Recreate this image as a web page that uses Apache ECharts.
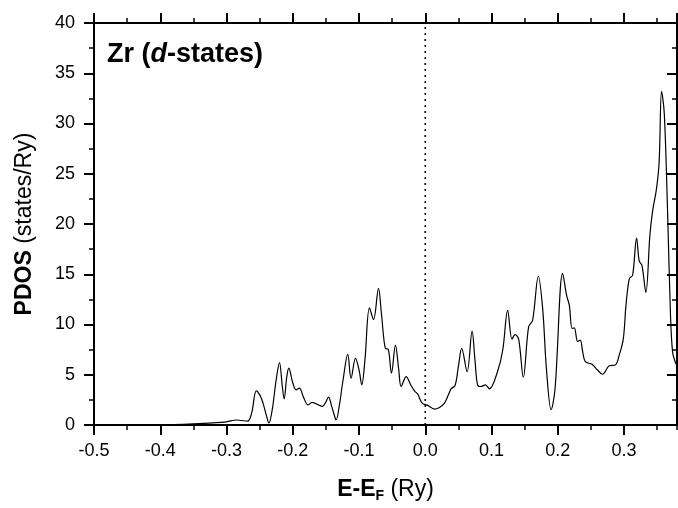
<!DOCTYPE html>
<html>
<head>
<meta charset="utf-8">
<script src="https://cdn.jsdelivr.net/npm/echarts@6/dist/echarts.min.js"></script>
<style>html,body{margin:0;padding:0;background:#fff}#c{width:678px;height:508px}</style>
</head>
<body>
<div id="c"></div>
<script>
const energy = [-0.5,-0.42,-0.38,-0.35,-0.32,-0.30,-0.285,-0.278,-0.268,-0.262,-0.255,-0.249,-0.245,-0.240,-0.236,-0.231,-0.225,-0.220,-0.216,-0.213,-0.209,-0.206,-0.200,-0.195,-0.190,-0.184,-0.177,-0.171,-0.163,-0.155,-0.150,-0.146,-0.141,-0.1355,-0.1344,-0.130,-0.124,-0.117,-0.112,-0.1053,-0.100,-0.0958,-0.091,-0.0842,-0.0781,-0.0706,-0.066,-0.060,-0.056,-0.051,-0.045,-0.040,-0.0364,-0.0288,-0.022,-0.0163,-0.0113,-0.0047,0.0038,0.0139,0.0214,0.029,0.035,0.039,0.045,0.050,0.055,0.0632,0.0707,0.075,0.079,0.0843,0.0908,0.0968,0.1094,0.117,0.1244,0.131,0.1356,0.141,0.148,0.156,0.162,0.1707,0.1772,0.183,0.190,0.196,0.2074,0.2134,0.2175,0.2216,0.225,0.230,0.234,0.2376,0.2416,0.2517,0.260,0.2677,0.2778,0.2869,0.293,0.299,0.303,0.308,0.313,0.319,0.323,0.327,0.333,0.339,0.343,0.349,0.353,0.3567,0.3608,0.3658,0.370,0.3733,0.378,0.38];
const pdos = [0,0,0.05,0.12,0.22,0.32,0.5,0.45,0.38,1.2,3.4,2.9,2.2,1.0,0.2,1.5,4.5,6.2,4.0,2.6,4.8,5.65,4.2,3.5,3.66,2.8,2.0,2.25,2.05,1.85,2.3,2.77,1.8,0.6,0.52,1.8,4.5,7.03,4.65,6.63,5.5,4.0,6.5,11.65,10.5,13.6,11.0,7.6,7.55,5.15,7.95,5.5,3.83,4.82,4.0,3.4,3.07,2.18,1.95,1.58,1.75,2.18,3.0,3.6,3.93,5.8,7.62,5.3,9.34,6.5,4.0,3.83,4.0,3.6,5.38,7.46,11.4,8.55,9.0,8.55,4.75,9.77,10.4,14.8,11.6,5.5,1.52,3.66,15.1,12.9,11.9,9.6,9.67,8.3,8.45,7.3,6.3,6.04,5.47,5.05,5.9,5.97,7.0,8.6,11.9,14.55,14.9,18.6,16.3,15.9,13.2,18.8,21.2,23.5,26.1,33.2,31.0,21.2,11.3,7.3,6.14,6.0];
const xMin = -0.5, xMax = 0.38, xStep = 0.1, xMinorStep = 0.05;
const yMin = 0, yMax = 40, yStep = 5;
const titleText = ['Zr (', 'd', '-states)'];
const fermiX = [0, 0];
const fermiY = [0, 40];

const FONT = 'Liberation Sans, Arial, sans-serif';
const chart = echarts.init(document.getElementById('c'), null, {renderer: 'canvas'});
const lineStyleAxis = {color: '#000', width: 2};
function xAx(pos, major, showLabel, showLine) {
  return {
    type: 'value', position: pos, min: xMin, max: xMax,
    interval: major ? xStep : xMinorStep,
    axisLine: {show: showLine, onZero: false, lineStyle: lineStyleAxis},
    axisTick: {show: true, inside: false, length: major ? 10 : 5, lineStyle: {color: '#000', width: major ? 2 : 1.5}},
    axisLabel: {show: showLabel, color: '#000', fontFamily: FONT, fontSize: 18, margin: 17, showMaxLabel: false,
      formatter: v => (Math.abs(v / xStep - Math.round(v / xStep)) < 1e-6 ? v.toFixed(1) : '')},
    splitLine: {show: false}
  };
}
const data = energy.map((e, i) => [e, pdos[i]]);
chart.setOption({
  animation: false,
  backgroundColor: '#fff',
  grid: {left: 94, right: 1, top: 23, bottom: 81},
  title: {
    left: 102, top: 36,
    text: '{a|' + titleText[0] + '}{b|' + titleText[1] + '}{a|' + titleText[2] + '}',
    textStyle: {rich: {
      a: {fontFamily: FONT, fontSize: 27, fontWeight: 'bold', color: '#000'},
      b: {fontFamily: FONT, fontSize: 27, fontWeight: 'bold', fontStyle: 'italic', color: '#000'}
    }}
  },
  xAxis: [
    Object.assign(xAx('bottom', true, true, true), {
      name: '{b|E-E}{s|F}{n| (Ry)}', nameLocation: 'middle', nameGap: 52,
      nameTextStyle: {rich: {
        b: {fontFamily: FONT, fontSize: 23, fontWeight: 'bold', color: '#000'},
        s: {fontFamily: FONT, fontSize: 14, fontWeight: 'bold', color: '#000', verticalAlign: 'bottom', padding: [12, 0, 0, 0]},
        n: {fontFamily: FONT, fontSize: 23, color: '#000'}
      }}
    }),
    xAx('bottom', false, false, false),
    xAx('top', true, false, true),
    xAx('top', false, false, false)
  ],
  yAxis: [
    {
      type: 'value', position: 'left', min: yMin, max: yMax, interval: yStep,
      axisLine: {show: true, onZero: false, lineStyle: lineStyleAxis},
      axisTick: {show: true, inside: false, length: 10, lineStyle: {color: '#000', width: 2}},
      minorTick: {show: true, splitNumber: 2, length: 5, lineStyle: {color: '#000', width: 1.5}},
      axisLabel: {color: '#000', fontFamily: FONT, fontSize: 18, margin: 19},
      splitLine: {show: false},
      name: '{b|PDOS}{n| (states/Ry)}', nameLocation: 'middle', nameGap: 58, nameRotate: 90,
      nameTextStyle: {rich: {
        b: {fontFamily: FONT, fontSize: 23, fontWeight: 'bold', color: '#000'},
        n: {fontFamily: FONT, fontSize: 23, color: '#000'}
      }}
    },
    {
      type: 'value', position: 'right', min: yMin, max: yMax, interval: yStep,
      axisLine: {show: true, onZero: false, lineStyle: lineStyleAxis},
      axisTick: {show: true, inside: true, length: 10, lineStyle: {color: '#000', width: 2}},
      minorTick: {show: true, splitNumber: 2, length: 5, lineStyle: {color: '#000', width: 1.5}},
      axisLabel: {show: false},
      splitLine: {show: false}
    }
  ],
  series: [
    {
      type: 'line', xAxisIndex: 0, yAxisIndex: 0,
      data: fermiX.map((x, i) => [x, fermiY[i]]),
      showSymbol: false, silent: true,
      lineStyle: {color: '#000', type: [2, 4], width: 1.5}
    },
    {
      type: 'line', xAxisIndex: 0, yAxisIndex: 0, data: data,
      showSymbol: false, smooth: 0.35,
      lineStyle: {color: '#000', width: 1.2}
    }
  ]
});
</script>
</body>
</html>
